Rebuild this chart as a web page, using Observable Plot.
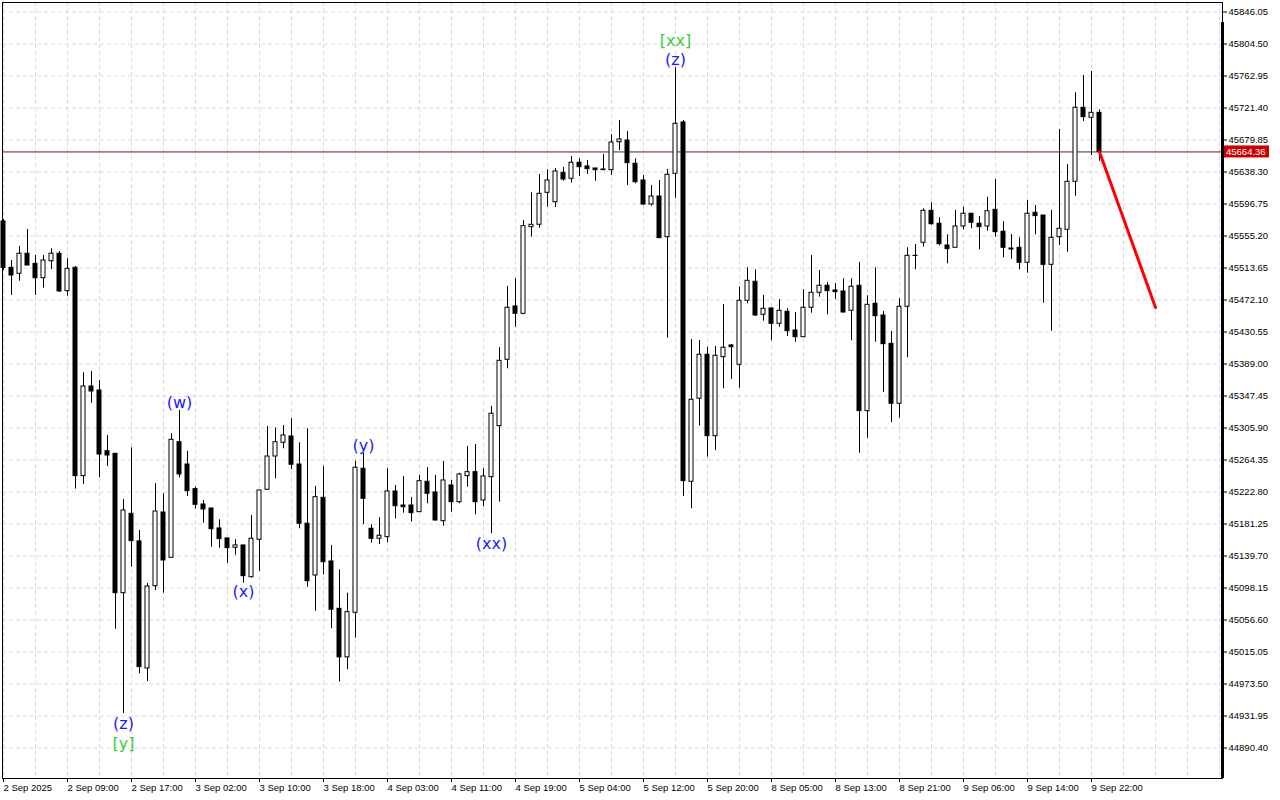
<!DOCTYPE html>
<html><head><meta charset="utf-8">
<script src="https://cdn.jsdelivr.net/npm/d3@7"></script>
<script src="https://cdn.jsdelivr.net/npm/@observablehq/plot@0.6"></script>
<style>html,body{margin:0;padding:0;background:#fff;} #chart svg{display:block;}</style>
</head><body><div id="chart"></div>
<script>
// Hourly bars, index 0 = 2 Sep 2025 00:00 bar
const openP = [
45574.1,45513.9,45506.2,45532.2,45519.1,45500.4,45522.5,45532.2,45483.6,45513.9,
45243.4,45359.8,45354.6,45275.8,45272.4,45091.4,45194.5,45158.6,44993.7,45100.5,
45196.2,45137.4,45287.5,45258.5,45226.5,45206.6,45201.4,45175.5,45162.5,45150.4,
45153.4,45112.2,45160.8,45225.7,45268.9,45286.7,45294.9,45258.5,45181.6,45114.4,
45215.3,45132.6,45071.2,45008.1,45066.0,45253.0,45175.1,45162.1,45164.2,45223.5,
45205.3,45205.3,45196.6,45236.1,45222.2,45184.9,45231.3,45209.6,45243.4,45248.6,
45211.8,45242.1,45308.3,45394.5,45463.7,45454.2,45566.7,45569.8,45611.3,45599.1,
45637.3,45629.5,45650.3,45645.5,45642.9,45640.7,45640.7,45677.0,45679.2,45649.0,
45627.3,45596.1,45606.5,45553.7,45636.0,45702.6,45236.1,45343.9,45401.0,45295.3,
45397.9,45413.1,45388.0,45471.1,45495.8,45452.9,45461.1,45441.2,45456.8,45432.5,
45423.8,45462.0,45481.5,45490.6,45484.5,45483.2,45458.1,45490.6,45327.8,45467.2,
45452.0,45415.2,45337.4,45463.3,45529.3,45546.4,45587.9,45571.1,45542.9,45539.9,
45567.6,45584.1,45571.1,45567.6,45589.2,45560.7,45539.0,45539.9,45520.4,45585.4,
45581.8,45517.8,45553.7,45563.3,45625.6,45721.7,45708.7,45715.2];
const highP = [
45576.7,45523.4,45541.6,45563.7,45529.9,45529.9,45538.6,45535.1,45525.6,45515.6,
45377.6,45379.3,45367.6,45296.2,45272.4,45213.1,45280.2,45172.9,45104.0,45233.5,
45220.5,45298.4,45328.7,45275.8,45229.1,45211.8,45201.4,45186.7,45162.5,45160.8,
45153.4,45192.3,45224.8,45307.9,45305.9,45309.2,45317.9,45286.7,45304.9,45230.0,
45256.0,45153.4,45121.6,45091.4,45262.8,45273.2,45180.3,45189.3,45253.0,45231.3,
45243.0,45215.7,45244.3,45254.3,45244.3,45262.4,45237.8,45247.3,45281.9,45284.5,
45253.0,45333.9,45410.1,45489.7,45499.7,45575.4,45611.3,45635.1,45641.2,45642.9,
45644.2,45658.5,45655.5,45653.3,45642.9,45661.1,45687.0,45705.2,45690.9,45655.5,
45633.8,45620.8,45627.3,45641.6,45773.6,45705.2,45420.8,45419.5,45410.9,45411.8,
45466.3,45414.4,45488.8,45513.9,45511.3,45478.0,45461.5,45472.4,45460.7,45455.9,
45485.4,45529.9,45510.4,45494.5,45493.2,45499.7,45499.7,45520.8,45477.6,45513.9,
45457.2,45431.2,45473.7,45539.9,45544.2,45590.5,45598.3,45578.9,45556.8,45588.6,
45592.6,45584.1,45580.5,45605.6,45628.6,45573.7,45557.2,45552.9,45601.3,45594.8,
45581.8,45588.6,45693.5,45648.1,45741.2,45763.6,45768.8,45719.1];
const lowP = [
45510.4,45478.0,45496.5,45516.9,45478.0,45487.5,45511.7,45481.9,45477.1,45226.5,
45232.6,45338.1,45241.3,45256.0,45044.7,44935.2,45125.2,44986.8,44976.8,45094.9,
45091.4,45137.4,45241.3,45217.0,45200.5,45182.3,45151.2,45149.9,45130.1,45140.8,
45104.4,45110.9,45119.7,45224.8,45240.0,45278.9,45251.7,45175.1,45099.2,45068.1,
45115.3,45045.2,44975.9,44992.0,45033.0,45180.3,45156.4,45154.7,45156.9,45188.0,
45195.3,45183.6,45196.6,45207.5,45184.9,45178.4,45196.6,45207.5,45229.1,45193.2,
45204.0,45168.6,45209.6,45382.8,45436.8,45452.9,45553.7,45565.4,45592.6,45592.2,
45626.4,45623.8,45632.5,45635.1,45626.4,45640.3,45633.8,45666.2,45620.8,45623.0,
45594.8,45593.9,45552.4,45422.5,45604.3,45217.0,45201.0,45308.3,45267.9,45276.7,
45356.8,45368.9,45357.6,45467.2,45450.7,45444.6,45419.1,45436.8,45424.7,45417.3,
45423.8,45455.0,45475.8,45452.9,45472.8,45455.0,45419.1,45273.2,45292.7,45417.3,
45352.3,45312.8,45318.8,45397.1,45511.3,45540.7,45569.2,45542.5,45519.1,45539.9,
45563.3,45564.6,45537.3,45561.5,45553.7,45526.9,45525.1,45511.3,45506.9,45556.8,
45468.0,45431.6,45542.9,45534.2,45606.9,45703.9,45659.7,45652.3];
const closeP = [
45513.9,45503.9,45532.2,45516.9,45500.4,45523.4,45532.2,45483.2,45512.6,45243.4,
45359.8,45353.3,45271.5,45270.2,45091.4,45198.8,45159.0,44995.4,45100.1,45197.5,
45133.9,45290.6,45245.6,45223.9,45206.2,45200.1,45174.5,45161.6,45149.9,45153.4,
45113.5,45162.1,45224.8,45268.9,45287.5,45296.2,45258.2,45181.6,45107.0,45216.1,
45131.7,45069.9,45008.1,45066.8,45254.3,45214.0,45162.1,45166.0,45223.5,45204.4,
45203.1,45195.3,45236.9,45220.5,45185.8,45237.8,45209.6,45245.6,45248.6,45209.6,
45243.0,45324.4,45393.2,45462.0,45454.2,45568.0,45569.8,45610.0,45627.3,45639.0,
45628.6,45650.3,45644.6,45642.0,45640.7,45641.6,45676.6,45680.5,45649.8,45625.1,
45596.1,45606.5,45552.4,45634.7,45700.9,45236.9,45342.6,45401.0,45295.3,45399.7,
45410.1,45410.9,45471.1,45497.1,45452.0,45460.7,45441.2,45458.1,45431.6,45423.8,
45462.0,45481.5,45490.6,45483.6,45482.3,45455.9,45489.3,45327.8,45465.9,45451.1,
45414.7,45337.4,45463.3,45529.5,45529.5,45587.9,45570.5,45544.6,45538.1,45567.6,
45584.1,45572.4,45566.7,45587.4,45560.2,45539.9,45537.7,45520.4,45584.1,45581.0,
45517.8,45552.9,45564.6,45625.6,45721.7,45709.5,45715.2,45664.36];

const currentPrice = 45664.36;

const yTicks = [45846.05,45804.50,45762.95,45721.40,45679.85,45638.30,45596.75,45555.20,
45513.65,45472.10,45430.55,45389.00,45347.45,45305.90,45264.35,45222.80,45181.25,45139.70,
45098.15,45056.60,45015.05,44973.50,44931.95,44890.40];

const xTickIdx = [0,8,16,24,32,40,48,56,64,72,80,88,96,104,112,120,128,136];
const xTickLabels = ["2 Sep 2025","2 Sep 09:00","2 Sep 17:00","3 Sep 02:00","3 Sep 10:00",
"3 Sep 18:00","4 Sep 03:00","4 Sep 11:00","4 Sep 19:00","5 Sep 04:00","5 Sep 12:00",
"5 Sep 20:00","8 Sep 05:00","8 Sep 13:00","8 Sep 21:00","9 Sep 06:00","9 Sep 14:00","9 Sep 22:00"];

const waveIdx = [15,15,22,30,45,61,84,84];
const wavePrice = [44922.3,44896.3,45339.0,45093.6,45283.2,45156.0,45809.1,45784.4];
const waveText = ["(z)","[y]","(w)","(x)","(y)","(xx)","[xx]","(z)"];
const waveColor = ["#1a1aff","#3ccc3c","#1a1aff","#1a1aff","#1a1aff","#1a1aff","#3ccc3c","#1a1aff"];

const forecastIdx = [137, 144];
const forecastPrice = [45664.36, 45462.4];

const candles = openP.map((o,i)=>({i, o, h:highP[i], l:lowP[i], c:closeP[i]}));
const waves = waveIdx.map((x,k)=>({i:x, p:wavePrice[k], t:waveText[k], c:waveColor[k]}));
const forecast = forecastIdx.map((x,k)=>({i:x, p:forecastPrice[k]}));
const xLabelMap = new Map(xTickIdx.map((d,k)=>[d, xTickLabels[k]]));
const gridIdx = d3.range(0, 153, 4);

const W = 1280, H = 800, mR = 58, mB = 22;
const plot = Plot.plot({
  width: W, height: H,
  marginTop: 2, marginLeft: 2, marginRight: mR, marginBottom: mB,
  style: {fontFamily: "'Liberation Sans', Arial, sans-serif", fontSize: "9.5px", background: "#fff", color: "#000", overflow: "visible"},
  x: {type: "linear", domain: [-0.125, 152.375]},
  y: {type: "linear", domain: [44850.8, 45858.4]},
  marks: [
    Plot.gridY({ticks: yTicks, stroke: "#dadada", strokeOpacity: 1, strokeDasharray: "4,3"}),
    Plot.gridX({ticks: gridIdx, stroke: "#dadada", strokeOpacity: 1, strokeDasharray: "4,3"}),
    Plot.ruleY([currentPrice], {stroke: "#5a2020", strokeWidth: 1}),
    Plot.ruleX(candles, {x: "i", y1: "l", y2: "h", stroke: "#000", strokeWidth: 1}),
    Plot.rect(candles, {filter: d => d.c > d.o, x1: d => d.i - 0.25, x2: d => d.i + 0.25, y1: "o", y2: "c", fill: "#fff", stroke: "#000", strokeWidth: 1}),
    Plot.rect(candles, {filter: d => d.c <= d.o, x1: d => d.i - 0.25, x2: d => d.i + 0.25, y1: "o", y2: "c", fill: "#000", stroke: "#000", strokeWidth: 1}),
    Plot.line(forecast, {x: "i", y: "p", stroke: "#ff0000", strokeWidth: 3}),
    Plot.text(waves, {x: "i", y: "p", text: "t", fill: "c", fontSize: 16, fontFamily: "'DejaVu Sans', sans-serif"}),
    Plot.axisY({anchor: "right", ticks: yTicks, tickFormat: d => d.toFixed(2), tickSize: 4, tickPadding: 2, label: null, stroke: "#000"}),
    Plot.axisX({anchor: "bottom", ticks: xTickIdx, tickFormat: d => xLabelMap.get(d), tickSize: 4, tickPadding: 2, textAnchor: "start", label: null, stroke: "#000"}),
    Plot.frame({stroke: "#000"})
  ]
});
document.getElementById("chart").appendChild(plot);

// current price tag and heavy right border
const yS = plot.scale("y");
const yc = yS.apply(currentPrice);
const svg = d3.select(plot);
const xr = W - mR;
svg.append("rect").attr("x", xr - 1).attr("y", 22).attr("width", 3).attr("height", H - mB - 22).attr("fill", "#000");
svg.append("rect").attr("x", xr + 2).attr("y", yc - 6).attr("width", 45).attr("height", 12).attr("fill", "#cc0000");
svg.append("text").attr("x", xr + 4).attr("y", yc).attr("dy", "0.35em")
  .attr("text-anchor", "start")
  .attr("fill", "#fff").attr("font-size", "9.5px").attr("font-family", "'Liberation Sans', Arial, sans-serif")
  .text(currentPrice.toFixed(2));
</script>
</body></html>
